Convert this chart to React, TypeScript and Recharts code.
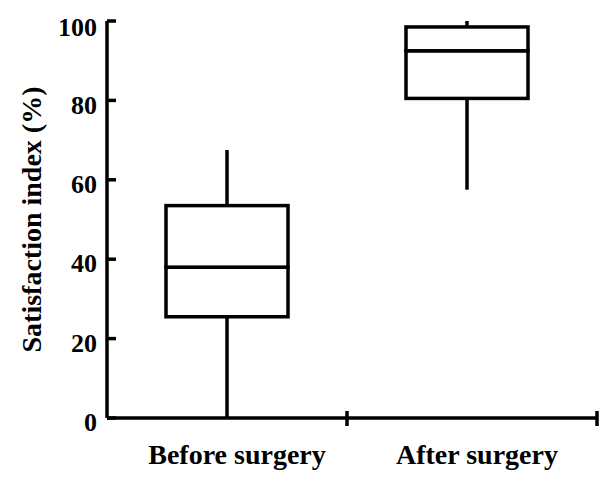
import { ComposedChart, Bar, XAxis, YAxis } from "recharts";

const groups = ["Before surgery", "After surgery"];
const minValues = [0, 57.5];
const q1Values = [25.5, 80.5];
const medianValues = [38, 92.5];
const q3Values = [53.5, 98.5];
const maxValues = [67.5, 100];
const yTicks = [0, 20, 40, 60, 80, 100];

// stacked segments: invisible base, whisker, two box halves, whisker
const data = groups.map((name, i) => ({
  name,
  base: minValues[i],
  lowerWhisker: q1Values[i] - minValues[i],
  lowerBox: medianValues[i] - q1Values[i],
  upperBox: q3Values[i] - medianValues[i],
  upperWhisker: maxValues[i] - q3Values[i],
}));

const FONT = '"Liberation Serif", "Times New Roman", serif';
const PAD_RIGHT = 10;
const LINE_W = 3.5;

function Whisker(props: any) {
  const { x, y, width, height } = props;
  const cx = x + width / 2;
  return <line x1={cx} x2={cx} y1={y} y2={y + height} stroke="#000" strokeWidth={LINE_W} />;
}

function BoxPart(props: any) {
  const { x, y, width, height } = props;
  return <rect x={x} y={y} width={width} height={height} fill="#fff" stroke="#000" strokeWidth={LINE_W} />;
}

function CategoryTick(props: any) {
  const { x, y, payload, index } = props;
  const last = index === groups.length - 1;
  const edge = x + (payload.offset || 0) + (last ? PAD_RIGHT : 0);
  return (
    <g>
      <line x1={edge} x2={edge} y1={y - 7} y2={y + 8} stroke="#000" strokeWidth={LINE_W} />
      <text
        x={x + 10}
        y={y + 46}
        textAnchor="middle"
        fill="#000"
        style={{ fontFamily: FONT, fontWeight: 700, fontSize: 28 }}
      >
        {payload.value}
      </text>
    </g>
  );
}

export default function App() {
  return (
    <div style={{ width: 600, height: 469, background: "#fff" }}>
      <ComposedChart
        width={600}
        height={469}
        data={data}
        margin={{ top: 13, right: 11, bottom: 0, left: 0 }}
      >
        <XAxis
          dataKey="name"
          height={59}
          interval={0}
          padding={{ left: 0, right: PAD_RIGHT }}
          axisLine={{ stroke: "#000", strokeWidth: LINE_W }}
          tickLine={false}
          tickSize={0}
          tickMargin={0}
          tick={<CategoryTick />}
        />
        <YAxis
          width={99}
          type="number"
          domain={[0, 100]}
          ticks={yTicks}
          axisLine={{ stroke: "#000", strokeWidth: LINE_W }}
          tickLine={{ stroke: "#000", strokeWidth: LINE_W }}
          tickSize={-9}
          tickMargin={19}
          tick={{ fill: "#000", fontFamily: FONT, fontWeight: 700, fontSize: 26, dy: 4 }}
          label={{
            value: "Satisfaction index (%)",
            angle: -90,
            position: "insideLeft",
            offset: 23,
            style: { textAnchor: "middle", fontFamily: FONT, fontWeight: 700, fontSize: 28, fill: "#000" },
          }}
        />
        <Bar dataKey="base" stackId="box" barSize={122} fill="transparent" isAnimationActive={false} />
        <Bar dataKey="lowerWhisker" stackId="box" barSize={122} shape={<Whisker />} isAnimationActive={false} />
        <Bar dataKey="lowerBox" stackId="box" barSize={122} shape={<BoxPart />} isAnimationActive={false} />
        <Bar dataKey="upperBox" stackId="box" barSize={122} shape={<BoxPart />} isAnimationActive={false} />
        <Bar dataKey="upperWhisker" stackId="box" barSize={122} shape={<Whisker />} isAnimationActive={false} />
      </ComposedChart>
    </div>
  );
}
